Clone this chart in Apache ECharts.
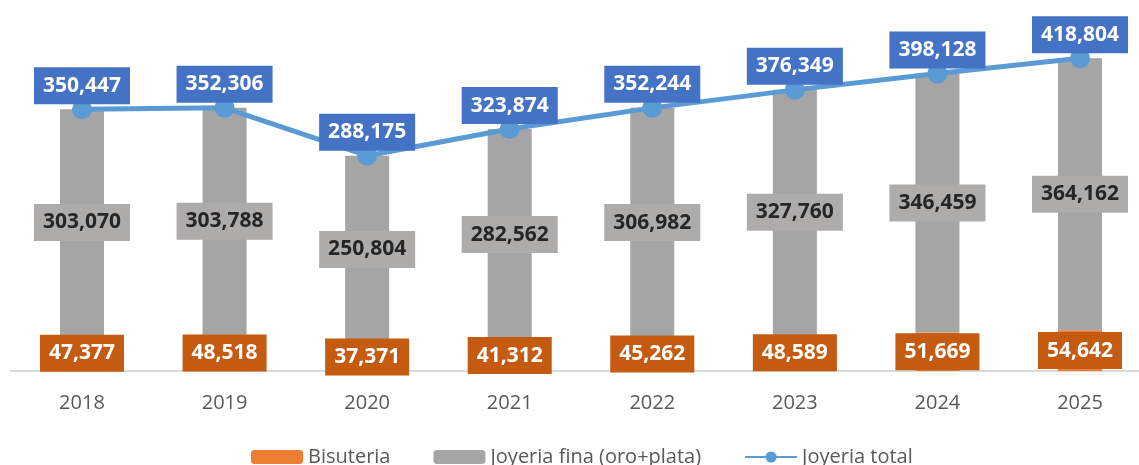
<!DOCTYPE html>
<html>
<head>
<meta charset="utf-8">
<script src="https://cdn.jsdelivr.net/npm/echarts@6/dist/echarts.min.js"></script>
<style>
html,body{margin:0;padding:0;background:#fff;}
#chartmain{width:1139px;height:465px;}
</style>
</head>
<body>
<div id="chartmain"></div>
<script>
// 数据
var years = ['2018','2019','2020','2021','2022','2023','2024','2025'];
var bisuteria = [47377,48518,37371,41312,45262,48589,51669,54642];
var joyeriaFina = [303070,303788,250804,282562,306982,327760,346459,364162];
var joyeriaTotal = [350447,352306,288175,323874,352244,376349,398128,418804];

var fontName = '"Open Sans", "Noto Sans", sans-serif';
function fmt(p){
	return Number(p.value).toLocaleString('en-US');
}

var myChart = echarts.init(document.getElementById("chartmain"));
myChart.setOption({
	animation:false,
	textStyle:{fontFamily:fontName},
	grid:{
		left:10.7,
		right:-12.3,
		top:-2.5,
		bottom:94,
		outerBoundsMode:'none'
	},
	//图例
	legend:{
		left:246,
		top:442,
		itemWidth:52,
		itemHeight:14,
		itemGap:43,
		textStyle:{color:'#595959',fontSize:20,fontFamily:fontName},
		data:['Bisuteria','Joyeria fina (oro+plata)','Joyeria total']
	},
	xAxis:{
		type:'category',
		data:years,
		axisLine:{lineStyle:{color:'#D9D9D9',width:2}},
		axisTick:{show:false},
		axisLabel:{color:'#595959',fontSize:20,margin:22,fontFamily:fontName}
	},
	yAxis:{
		type:'value',
		min:0,
		max:500000,
		show:false,
		splitLine:{show:false}
	},
	series:[{
		name:'Bisuteria',
		type:'bar',
		stack:'total',
		barWidth:44,
		itemStyle:{color:'#ED7D31'},
		label:{
			show:true,
			position:'inside',
			formatter:fmt,
			color:'#fff',
			fontWeight:'bold',
			fontSize:21,
			backgroundColor:'#C55A11',
			padding:[8,9]
		},
		data:bisuteria
	},{
		name:'Joyeria fina (oro+plata)',
		type:'bar',
		stack:'total',
		barWidth:44,
		itemStyle:{color:'#A5A5A5'},
		label:{
			show:true,
			position:'inside',
			formatter:fmt,
			color:'#262626',
			fontWeight:'bold',
			fontSize:21,
			backgroundColor:'#AEABAB',
			padding:[8,9]
		},
		data:joyeriaFina
	},{
		name:'Joyeria total',
		type:'line',
		symbol:'circle',
		symbolSize:20,
		itemStyle:{color:'#5B9BD5'},
		lineStyle:{color:'#5B9BD5',width:5},
		z:5,
		label:{
			show:true,
			position:'top',
			distance:-5,
			formatter:fmt,
			color:'#fff',
			fontWeight:'bold',
			fontSize:21,
			backgroundColor:'#4472C4',
			padding:[8,9]
		},
		data:joyeriaTotal
	}]
});
</script>
</body>
</html>
